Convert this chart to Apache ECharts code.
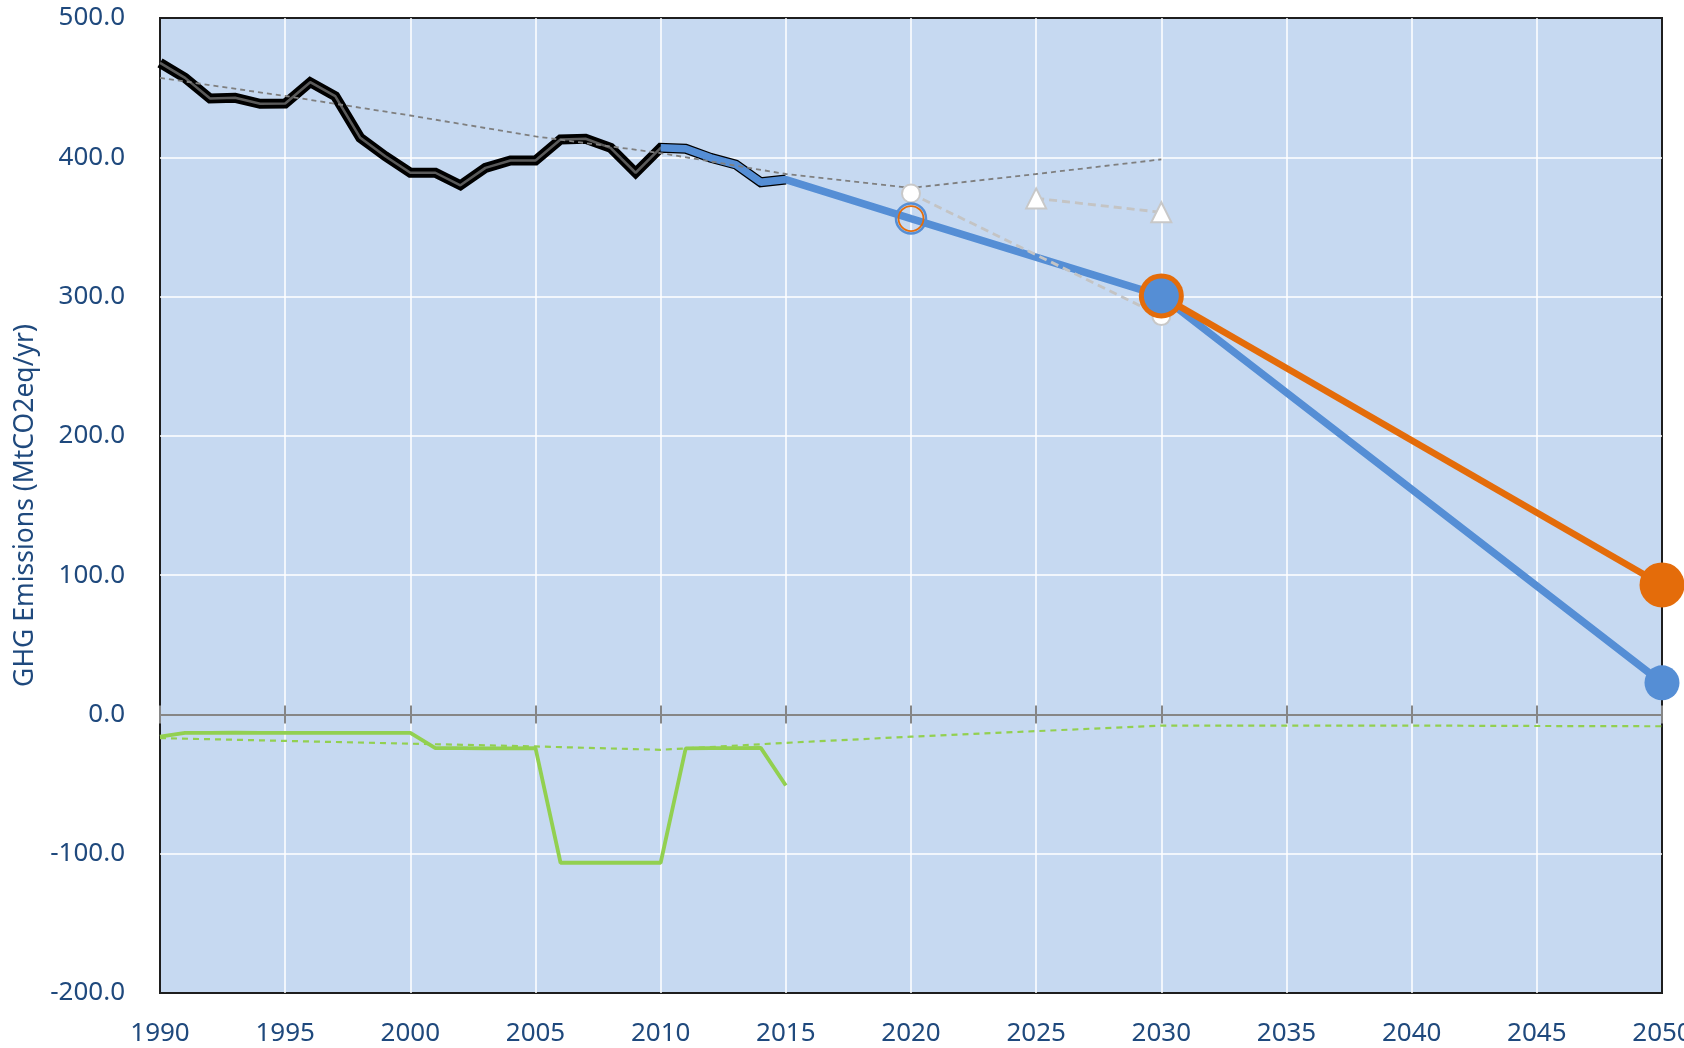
<!DOCTYPE html>
<html>
<head>
<meta charset="utf-8">
<script src="https://cdn.jsdelivr.net/npm/echarts@6/dist/echarts.min.js"></script>
<style>
html,body{margin:0;padding:0;background:#fff;}
#chart{width:1684px;height:1048px;}
</style>
</head>
<body>
<div id="chart"></div>
<script>
// ---- data ----
const histYears = [1990,1991,1992,1993,1994,1995,1996,1997,1998,1999,2000,2001,2002,2003,2004,2005,2006,2007,2008,2009,2010,2011,2012,2013,2014,2015];
const histValues = [467.8,457.0,442.2,442.7,438.4,438.6,453.9,443.9,414.0,400.8,388.9,388.9,379.9,392.4,397.7,397.7,412.8,413.3,406.8,388.9,406.8,406.1,399.6,394.8,382.1,384.0];

const blueYears = [2010,2011,2012,2013,2014,2015,2020,2030,2050];
const blueValues = [406.8,406.1,399.6,394.8,382.1,384.0,356.0,300.5,22.7];
const blueMarkerYears = [2030,2050];

const orangeYears = [2030,2050];
const orangeValues = [300.5,93.0];

const ringYears = [2020];
const ringValues = [356.0];

const trendYears = [1990,1995,2000,2005,2010,2015,2020,2025,2030];
const trendValues = [457.0,444.0,430.0,415.0,403.0,388.0,378.0,388.0,398.5];

const whiteCircleYears = [2020,2030];
const whiteCircleValues = [374.0,286.0];

const triangleYears = [2025,2030];
const triangleValues = [370.5,360.5];

const sinkYears = [1990,1991,1992,1993,1994,1995,1996,1997,1998,1999,2000,2001,2002,2003,2004,2005,2006,2007,2008,2009,2010,2011,2012,2013,2014,2015];
const sinkValues = [-16.0,-13.2,-13.2,-13.0,-13.2,-13.2,-13.2,-13.2,-13.2,-13.2,-13.2,-24.2,-24.2,-24.4,-24.4,-24.2,-106.5,-106.5,-106.5,-106.5,-106.5,-24.4,-24.2,-24.2,-24.0,-51.0];

const sinkTrendYears = [1990,1995,2000,2005,2010,2015,2020,2025,2030,2035,2040,2045,2050];
const sinkTrendValues = [-17.0,-19.0,-21.0,-23.0,-25.4,-20.4,-16.0,-12.0,-8.0,-8.0,-8.0,-8.3,-8.5];

const xMin = 1990, xMax = 2050, xStep = 5;
const yMin = -200, yMax = 500, yStep = 100;
const yAxisTitle = 'GHG Emissions (MtCO2eq/yr)';

// ---- helpers ----
const pairs = (xs, ys) => xs.map((x, i) => [x, ys[i]]);
const pick = (xs, ys, keep) => pairs(xs, ys).filter(p => keep.indexOf(p[0]) >= 0);

const BLUE = '#558ED5', ORANGE = '#E46C0A', GREEN = '#92D050';
const LABEL = '#1F497D';
const FONT = 'Noto Sans';

const chart = echarts.init(document.getElementById('chart'), null, {renderer: 'canvas'});

const xBase = {type: 'value', min: xMin, max: xMax, interval: xStep, gridIndex: 0};
const yBase = {type: 'value', min: yMin, max: yMax, interval: yStep, gridIndex: 0};

const option = {
  animation: false,
  backgroundColor: '#ffffff',
  grid: {
    left: 160, right: 22, top: 18, bottom: 55,
    containLabel: false, outerBoundsMode: 'none',
    show: true, backgroundColor: '#C6D9F1', borderColor: '#1e1e1e', borderWidth: 2
  },
  xAxis: [
    Object.assign({}, xBase, {
      position: 'bottom',
      axisLine: {show: false, onZero: false},
      axisTick: {show: false},
      axisLabel: {color: LABEL, fontFamily: FONT, fontSize: 26, margin: 28, formatter: v => String(v)},
      splitLine: {show: true, showMinLine: false, showMaxLine: false, lineStyle: {color: '#ffffff', width: 1.5}}
    }),
    Object.assign({}, xBase, {
      position: 'bottom',
      axisLine: {show: true, onZero: true, onZeroAxisIndex: 0, lineStyle: {color: '#868686', width: 2}},
      axisTick: {show: true, inside: false, length: 9, lineStyle: {color: '#868686', width: 2}},
      axisLabel: {show: false},
      splitLine: {show: false}
    }),
    Object.assign({}, xBase, {
      position: 'bottom',
      axisLine: {show: true, onZero: true, onZeroAxisIndex: 1, lineStyle: {color: '#868686', width: 2}},
      axisTick: {show: true, inside: true, length: 9, lineStyle: {color: '#868686', width: 2}},
      axisLabel: {show: false},
      splitLine: {show: false}
    })
  ],
  yAxis: [
    Object.assign({}, yBase, {
      position: 'left',
      name: yAxisTitle, nameLocation: 'middle', nameGap: 118, nameRotate: 90,
      nameTextStyle: {color: LABEL, fontFamily: FONT, fontSize: 26.5},
      axisLine: {show: false, onZero: false},
      axisTick: {show: false},
      axisLabel: {color: LABEL, fontFamily: FONT, fontSize: 26, margin: 35, formatter: v => v.toFixed(1)},
      splitLine: {show: true, showMinLine: false, showMaxLine: false, lineStyle: {color: '#ffffff', width: 1.5}}
    }),
    Object.assign({}, yBase, {
      position: 'right', show: false,
      axisLine: {show: false, onZero: false},
      splitLine: {show: false}
    })
  ],
  series: [
    {type: 'line', name: 'sink trend', z: 3, symbol: 'none', data: pairs(sinkTrendYears, sinkTrendValues),
     lineStyle: {color: GREEN, width: 2.2, type: [6, 5]}},
    {type: 'line', name: 'sink', z: 4, symbol: 'none', data: pairs(sinkYears, sinkValues),
     lineStyle: {color: GREEN, width: 3.8}},
    {type: 'line', name: 'historic outer', z: 5, symbol: 'none', data: pairs(histYears, histValues),
     lineStyle: {color: '#000000', width: 10, join: 'miter'}},
    {type: 'line', name: 'historic inner', z: 6, symbol: 'none', data: pairs(histYears, histValues),
     lineStyle: {color: '#5a5a5a', width: 2.5}},
    {type: 'line', name: 'path A', z: 7, symbol: 'none', data: pairs(blueYears, blueValues),
     lineStyle: {color: BLUE, width: 7.5}},
    {type: 'line', name: 'path B', z: 8, symbol: 'none', data: pairs(orangeYears, orangeValues),
     lineStyle: {color: ORANGE, width: 6.5}},
    {type: 'line', name: 'trend', z: 9, symbol: 'none', data: pairs(trendYears, trendValues),
     lineStyle: {color: '#7F7F7F', width: 1.8, type: [5, 4]}},
    {type: 'line', name: 'targets circles', z: 10, symbol: 'circle', symbolSize: 18, showSymbol: true,
     data: pairs(whiteCircleYears, whiteCircleValues),
     lineStyle: {color: '#C4C4C4', width: 2.8, type: [8, 5]},
     itemStyle: {color: '#ffffff', borderColor: '#C8C8C8', borderWidth: 2}},
    {type: 'line', name: 'targets triangles', z: 11, symbol: 'triangle', symbolSize: 20, showSymbol: true,
     data: pairs(triangleYears, triangleValues),
     lineStyle: {color: '#C4C4C4', width: 2.8, type: [8, 5]},
     itemStyle: {color: '#ffffff', borderColor: '#C8C8C8', borderWidth: 2}},
    {type: 'scatter', name: 'B markers', z: 12, clip: false, symbol: 'circle', symbolSize: 45,
     data: pairs(orangeYears, orangeValues), itemStyle: {color: ORANGE, opacity: 1}},
    {type: 'scatter', name: 'A markers', z: 13, clip: false, symbol: 'circle', symbolSize: 35,
     data: pick(blueYears, blueValues, blueMarkerYears), itemStyle: {color: BLUE, opacity: 1}},
    {type: 'scatter', name: 'A ring', z: 14, clip: false, symbol: 'circle', symbolSize: 30,
     data: pairs(ringYears, ringValues),
     itemStyle: {color: 'rgba(0,0,0,0)', borderColor: BLUE, borderWidth: 2.5, opacity: 1}},
    {type: 'scatter', name: 'B ring', z: 15, clip: false, symbol: 'circle', symbolSize: 25,
     data: pairs(ringYears, ringValues),
     itemStyle: {color: 'rgba(0,0,0,0)', borderColor: ORANGE, borderWidth: 1.8, opacity: 1}}
  ]
};
chart.setOption(option);
</script>
</body>
</html>
